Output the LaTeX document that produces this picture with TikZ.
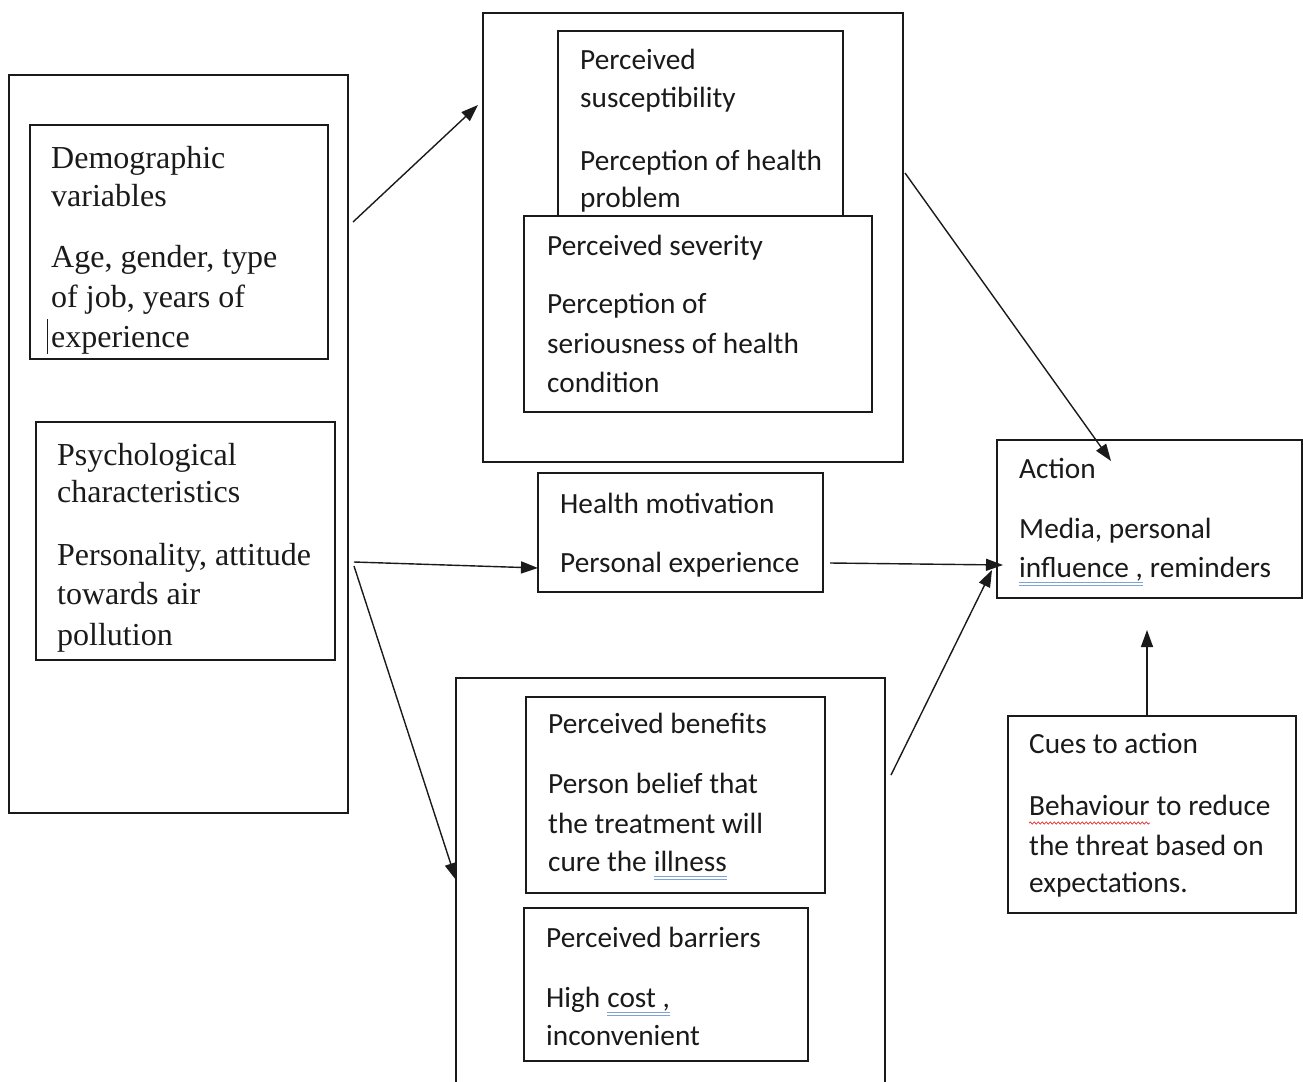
\documentclass[tikz,border=0pt]{standalone}
\usepackage{fontspec}
\newfontfamily\serifface{Liberation Serif}
\newfontfamily\sansface{Carlito}
\usetikzlibrary{arrows.meta,decorations.pathmorphing}
\definecolor{inkc}{HTML}{1A1A1A}
\definecolor{ulblue}{HTML}{7FA3D6}
\definecolor{ulred}{HTML}{E03030}
\begin{document}
\begin{tikzpicture}[x=1pt,y=-1pt,
  box/.style={draw=inkc, line width=1.7pt, inner sep=0pt, outer sep=0pt, anchor=north west, fill=white},
  st/.style={inner sep=0pt, anchor=base west, text=inkc, font=\sansface\fontsize{29.3}{36}\selectfont},
  rt/.style={inner sep=0pt, anchor=base west, text=inkc, font=\serifface\fontsize{32}{38}\selectfont},
  arr/.style={draw=inkc, line width=1.4pt, -{Triangle[length=17pt,width=12pt]}},
  ulb/.style={draw=ulblue, line width=0.9pt},
  ulw/.style={draw=ulred, line width=0.7pt, decorate, decoration={snake, amplitude=1.1pt, segment length=4pt}}]
\useasboundingbox (0,0) rectangle (1303,1081);
\clip (0,0) rectangle (1303,1081);

% left column
\node[box, minimum width=339pt, minimum height=738pt] (left) at (9,75) {};
\node[box, minimum width=298pt, minimum height=234pt] (demo) at (30,125) {};
\node[rt] (d1) at (51,168) {Demographic};
\node[rt] (d2) at (51,206) {variables};
\node[rt] (d3) at (51,267) {Age, gender, type};
\node[rt] (d4) at (51,307) {of job, years of};
\node[rt] (d5) at (51,347) {experience};
\draw[draw=inkc, line width=1pt] (47,319) -- (47,354);

\node[box, minimum width=299pt, minimum height=238pt] (psych) at (36,422) {};
\node[rt] (p1) at (57,465) {Psychological};
\node[rt] (p2) at (57,502) {characteristics};
\node[rt] (p3) at (57,565) {Personality, attitude};
\node[rt] (p4) at (57,604) {towards air};
\node[rt] (p5) at (57,645) {pollution};

% top HBM group
\node[box, minimum width=420pt, minimum height=449pt] (hbm) at (483,13) {};
\node[box, minimum width=285pt, minimum height=190pt] (susc) at (558,31) {};
\node[st] (s1) at (580,70) {Perceived};
\node[st] (s2) at (580,107) {susceptibility};
\node[st] (s3) at (580,170) {Perception of health};
\node[st] (s4) at (580,207) {problem};
\node[box, minimum width=348pt, minimum height=196pt] (sev) at (524,216) {};
\node[st] (v1) at (547,255) {Perceived severity};
\node[st] (v2) at (547,313) {Perception of};
\node[st] (v3) at (547,353) {seriousness of health};
\node[st] (v4) at (547,392) {condition};

% health motivation
\node[box, minimum width=285pt, minimum height=119pt] (hm) at (538,473) {};
\node[st] (h1) at (560,513) {Health motivation};
\node[st] (h2) at (560,572) {Personal experience};

% bottom group
\node[box, minimum width=429pt, minimum height=430pt] (bot) at (456,678) {};
\node[box, minimum width=299pt, minimum height=196pt] (ben) at (526,697) {};
\node[st] (b1) at (548,733) {Perceived benefits};
\node[st] (b2) at (548,793) {Person belief that};
\node[st] (b3) at (548,833) {the treatment will};
\node[st] (b4a) at (548,871) {cure the};
\node[st] (b4b) at ([xshift=6.6pt]b4a.base east) {illness};
\draw[ulb] ([shift={(0,5)}]b4b.base west) -- ([shift={(0,5)}]b4b.base east);
\draw[ulb] ([shift={(0,8)}]b4b.base west) -- ([shift={(0,8)}]b4b.base east);

\node[box, minimum width=284pt, minimum height=153pt] (bar) at (524,908) {};
\node[st] (r1) at (546,947) {Perceived barriers};
\node[st] (r2a) at (546,1007) {High};
\node[st] (r2b) at ([xshift=6.6pt]r2a.base east) {cost ,};
\draw[ulb] ([shift={(0,5)}]r2b.base west) -- ([shift={(0,5)}]r2b.base east);
\draw[ulb] ([shift={(0,8)}]r2b.base west) -- ([shift={(0,8)}]r2b.base east);
\node[st] (r3) at (546,1045) {inconvenient};

% action
\node[box, minimum width=305pt, minimum height=158pt] (act) at (997,440) {};
\node[st] (a1) at (1019,478) {Action};
\node[st] (a2) at (1019,538) {Media, personal};
\node[st] (a3a) at (1019,577) {influence ,};
\node[st] (a3b) at ([xshift=6.6pt]a3a.base east) {reminders};
\draw[ulb] ([shift={(0,5)}]a3a.base west) -- ([shift={(0,5)}]a3a.base east);
\draw[ulb] ([shift={(0,8)}]a3a.base west) -- ([shift={(0,8)}]a3a.base east);

% cues
\node[box, minimum width=288pt, minimum height=197pt] (cues) at (1008,716) {};
\node[st] (c1) at (1029,753) {Cues to action};
\node[st] (c2a) at (1029,815) {Behaviour};
\node[st] (c2b) at ([xshift=6.6pt]c2a.base east) {to reduce};
\draw[ulw] ([shift={(0,8)}]c2a.base west) -- ([shift={(0,8)}]c2a.base east);
\node[st] (c3) at (1029,855) {the threat based on};
\node[st] (c4) at (1029,892) {expectations.};

% connectors
\coordinate (cuetip) at (1147,630);
\draw[arr] ([shift={(5,147)}]left.north east) -- ([shift={(-5,92)}]hbm.north west);
\draw[arr] ([shift={(2,160)}]hbm.north east) -- ([shift={(114,21)}]act.north west);
\draw[arr] ([shift={(19,140)}]psych.north east) -- ([shift={(0,95)}]hm.north west);
\draw[arr] ([shift={(19,144)}]psych.north east) -- ([shift={(0,202)}]bot.north west);
\draw[arr] ([shift={(7,90)}]hm.north east) -- ([shift={(6,125)}]act.north west);
\draw[arr] ([shift={(6,97)}]bot.north east) -- ([shift={(-5,130)}]act.north west);
\draw[arr] ([shift={(139,0)}]cues.north west) -- (cuetip);
\end{tikzpicture}
\end{document}
